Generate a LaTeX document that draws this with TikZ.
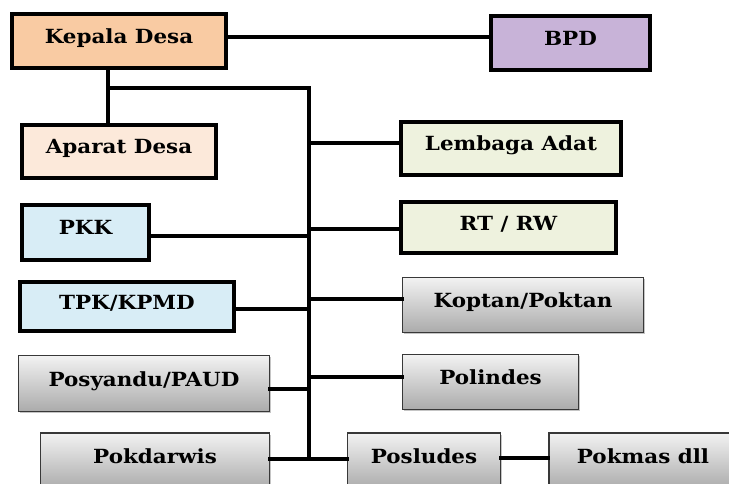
\documentclass[tikz,border=0pt]{standalone}
\usepackage{fontspec}
\setmainfont{DejaVu Serif}[FakeStretch=1.1]
\usetikzlibrary{shadows}
\definecolor{cKepala}{HTML}{F9CBA3}
\definecolor{cBPD}{HTML}{C8B3D8}
\definecolor{cAparat}{HTML}{FCE9DA}
\definecolor{cGreen}{HTML}{EEF2DE}
\definecolor{cBlue}{HTML}{D8EDF6}
\begin{document}
\begin{tikzpicture}[x=1pt,y=-1pt,
  lbl/.style={font=\fontsize{19.5}{22}\selectfont\bfseries, inner sep=0pt, text height=14pt, text depth=9pt},
  thickbox/.style={lbl, rectangle, draw=black, line width=4.5pt},
  graybox/.style={lbl, rectangle, draw=black!78, line width=1.6pt,
     top color=white!95!black, bottom color=black!33,
     drop shadow={shadow xshift=1.5pt, shadow yshift=-1.5pt, opacity=0.45}},
  conn/.style={line width=4.5pt, line cap=rect}]
\useasboundingbox (0,0) rectangle (729,484);
\fill[white] (0,0) rectangle (729,484);
\coordinate (j1) at (108,88);
\coordinate (j2) at (309,88);
\coordinate (jb) at (309,459);
% boxes
\node[thickbox, fill=cKepala, minimum width=214pt, minimum height=54pt] (kepala) at (119,41) {Kepala Desa};
\node[thickbox, fill=cBPD, minimum width=159pt, minimum height=54pt] (bpd) at (570.5,43) {BPD};
\node[thickbox, fill=cAparat, minimum width=194pt, minimum height=53pt] (aparat) at (119,151.5) {Aparat Desa};
\node[thickbox, fill=cGreen, minimum width=220pt, minimum height=53pt] (lembaga) at (511,148.5) {Lembaga Adat};
\node[thickbox, fill=cBlue, minimum width=127pt, minimum height=55pt] (pkk) at (85.5,232.5) {PKK};
\node[thickbox, fill=cGreen, minimum width=215pt, minimum height=51pt] (rtrw) at (508.5,227.5) {RT / RW};
\node[thickbox, fill=cBlue, minimum width=214pt, minimum height=49pt] (tpk) at (127,306.5) {TPK/KPMD};
\node[graybox, minimum width=241pt, minimum height=55pt] (koptan) at (523,305) {Koptan/Poktan};
\node[graybox, minimum width=251pt, minimum height=56pt] (posy) at (144,383.5) {Posyandu/PAUD};
\node[graybox, minimum width=176pt, minimum height=55pt] (polindes) at (490.5,382) {Polindes};
\node[graybox, minimum width=229pt, minimum height=56pt] (pokdarwis) at (155,461) {Pokdarwis};
\node[graybox, minimum width=153pt, minimum height=56pt] (posludes) at (424,461) {Posludes};
\node[graybox, minimum width=188pt, minimum height=56pt] (pokmas) at (643,461) {Pokmas dll};
% connectors
\draw[conn] (kepala.east |- 0,37) -- (bpd.west |- 0,37);
\draw[conn] (kepala.south -| j1) -- (aparat.north -| j1);
\draw[conn] (j1) -- (j2) -- (jb);
\draw[conn] (lembaga.west |- 0,143) -- (j2 |- 0,143);
\draw[conn] (pkk.east |- 0,236) -- (j2 |- 0,236);
\draw[conn] (rtrw.west |- 0,229) -- (j2 |- 0,229);
\draw[conn] (tpk.east |- 0,309) -- (j2 |- 0,309);
\draw[conn] (koptan.west |- 0,299) -- (j2 |- 0,299);
\draw[conn] (posy.east |- 0,389) -- (j2 |- 0,389);
\draw[conn] (polindes.west |- 0,377) -- (j2 |- 0,377);
\draw[conn] (pokdarwis.east |- 0,459) -- (posludes.west |- 0,459);
\draw[conn] (posludes.east |- 0,458) -- (pokmas.west |- 0,458);
\end{tikzpicture}
\end{document}
